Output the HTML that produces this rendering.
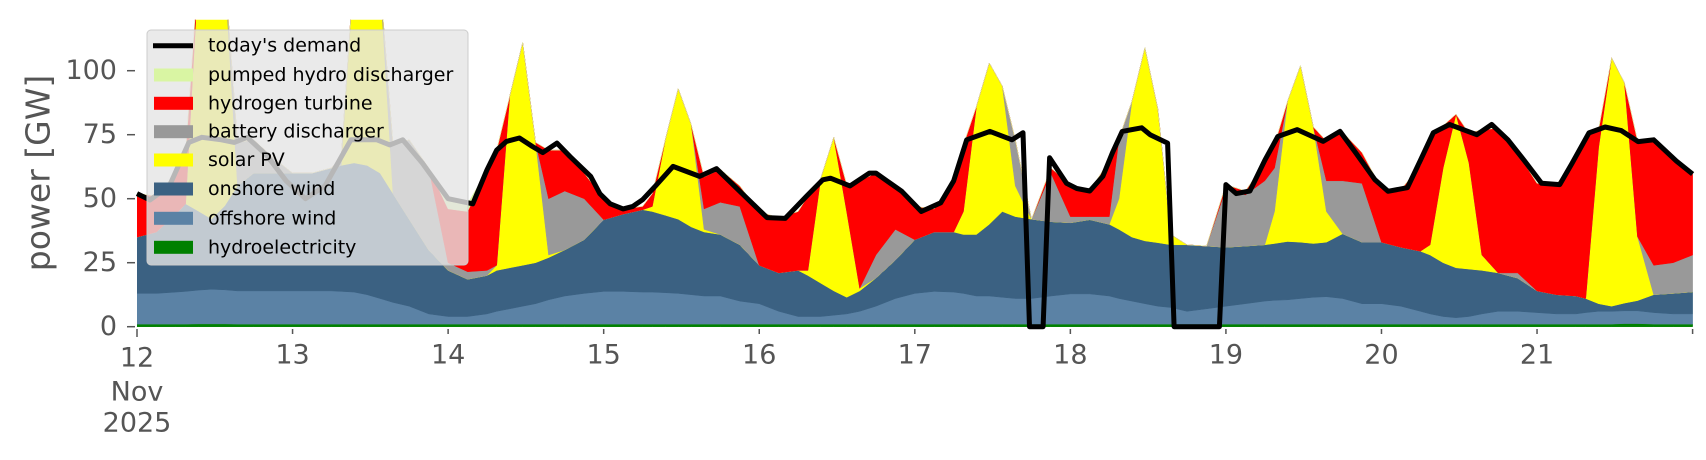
<!DOCTYPE html>
<html><head><meta charset="utf-8"><style>
html,body{margin:0;padding:0;background:#fff;}
svg{display:block;font-family:"DejaVu Sans","Liberation Sans",sans-serif;}
</style></head><body>
<svg id="chart" width="1706" height="460" viewBox="0 0 1706 460" xmlns="http://www.w3.org/2000/svg">
<defs><clipPath id="plotclip"><rect x="137" y="19.7" width="1556" height="307.5"/></clipPath></defs>
<g id="areas" clip-path="url(#plotclip)"></g>
<g id="demandg"></g>
<g id="axes"></g>
<text transform="translate(38,173) rotate(-90)" text-anchor="middle" dominant-baseline="central" font-size="33" fill="#555">power [GW]</text>
<g>
 <rect x="147" y="30" width="321" height="235" rx="4" fill="rgba(229,229,229,0.8)" stroke="#cccccc" stroke-width="1"/>
 <g><line x1="153" y1="45.7" x2="193" y2="45.7" stroke="#000" stroke-width="5"/><text x="208" y="45.7" dominant-baseline="central" font-size="19">today's demand</text></g>
 <g><rect x="154" y="68.5" width="39" height="13" fill="#d9f5a3"/><text x="208" y="75" dominant-baseline="central" font-size="19">pumped hydro discharger</text></g>
 <g><rect x="154" y="96.8" width="39" height="13" fill="#ff0000"/><text x="208" y="103.3" dominant-baseline="central" font-size="19">hydrogen turbine</text></g>
 <g><rect x="154" y="125.2" width="39" height="13" fill="#999999"/><text x="208" y="131.7" dominant-baseline="central" font-size="19">battery discharger</text></g>
 <g><rect x="154" y="153.5" width="39" height="13" fill="#ffff00"/><text x="208" y="160" dominant-baseline="central" font-size="19">solar PV</text></g>
 <g><rect x="154" y="182.5" width="39" height="13" fill="#3b6182"/><text x="208" y="189" dominant-baseline="central" font-size="19">onshore wind</text></g>
 <g><rect x="154" y="211.8" width="39" height="13" fill="#5b82a5"/><text x="208" y="218.3" dominant-baseline="central" font-size="19">offshore wind</text></g>
 <g><rect x="154" y="240.8" width="39" height="13" fill="#008000"/><text x="208" y="247.3" dominant-baseline="central" font-size="19">hydroelectricity</text></g>
</g>
</svg>
<script>
const hours = [0,3,6,7.5,9.5,11.5,13.5,15.5,18,21,
24,27,30,31.5,33.5,35.5,37.5,39.5,42,45,
48,51,54,55.5,57.5,59.5,61.5,63.5,66,69,
72,75,78,79.5,81.5,83.5,85.5,87.5,90,93,
96,99,102,103.5,105.5,107.5,109.5,111.5,114,117,
120,123,126,127.5,129.5,131.5,133.5,135.5,138,141,
144,147,150,151.5,153.5,155.5,157.5,159.5,162,165,
168,171,174,175.5,177.5,179.5,181.5,183.5,186,189,
192,195,198,199.5,201.5,203.5,205.5,207.5,210,213,
216,219,222,223.5,225.5,227.5,229.5,231.5,234,237,240];
const hydro = [1,1,1,1,1.1,1.1,1.1,1,1,1,
1,1,1,1,1,1,1,1,1,1,
1,1,1,1,1,1,1,1,1,1,
1,1,1,1,1,1,1,1,1,1,
1,1,1,1,1,1,1,1,1,1,
1,1,1,1,1,1,1,1,1,1,
1,1,1,1,1,1,1,1,1,1,
1,1,1,1,1,1,1,1,1,1,
1,1,1,1,1,1,1,1,1,1,
1,1,1,1,1,1,1.2,1.2,1,1,1];
const offshore = [12,12,12.5,12.8,13.2,13.5,13.3,13,13,13,
13,13,13,12.8,12.5,11.5,10,8.5,7,4,
3,3,4,5,6,7,8,9.5,11,12,
12.8,12.8,12.5,12.5,12.3,12,11.5,11,11,9,
8,5,3,3,3,3.5,4,5,7,10,
12,12.8,12.5,12,11,11,10.5,10,10,11,
11.8,11.8,11,10,9,8,7,6.5,5,6,
7,8,9,9.3,9.5,10,10.5,10.7,10,8,
8,7,5,4,3,2.5,3,4,5,5,
4.5,4,4,4.5,5,5,5,5,4.5,4,4];
const onshore = [22,24,30.5,34.2,30.8,27.5,32.7,41,46,46,
46,46,48,49.2,50.5,50.5,49,42.5,34,25,
18,14.5,15,16,16,16,16,16.5,18,21,
28,30.2,32.2,31.5,30.2,29,26.5,25,24,22,
15,15,18,16,13,9.5,6.5,8,11,15,
21,23.2,23.5,23,24,28,33.5,32,31,29,
27.8,29,28,27,25,24.5,24.8,24.5,26,24.5,
23,22.5,22,22.2,22.8,22,21,21.3,25.3,24,
24,23,23.5,23,21,19.5,18.5,17,15,13,
8.5,7.5,7,5.5,3,2,3,4,7,8,8.6];
const solar = [0,0,0,0,95,108,93,0,0,0,
0,0,0,0,76,87,75,0,0,0,
0,0,0,2,67,87,47,1,0,0,
0,0,0,2,29.5,51,40,1,0,0,
0,0,0,2,41,60,33.5,1,0,0,
0,0,0,9,50,63,49,12,0,0,
0,0,0,12,53,75.5,52.2,4,0,0,
0,0,0,12.5,54.7,69,45.5,12,0,0,
0,0,0,4,37,60,41.5,6,0,0,
0,0,0,0,61,97,86,25,0,0,0];
const battery = [0,0,0,0,0,0,0,17,13,6,
0,0,0,3,0,0,0,19,31,32,
3,3,2,0,0,0,0,22,23,16,
0,0,0,0,0,0,0,8,12.6,15,
0,0,0,0,0,0,0,0,9,12,
0,0,0,0,0,0,0,18,0,19,
2.4,1.2,3,23.5,0,0,0,0,0,0,
23,20,25,17,0,0,0,12,20.7,23,
0,0,0,0,0,0,0,0,0,2,
0,0,0,0,0,0,0,0,11.5,12,14.4];
const hydrogen = [17,14,16,20,0,0,0,0,0,0,
0,0,0,0,0,0,0,0,0,0,
21,23.5,39,45,0,0,0,19,16,10,
8.2,2,1.3,5,0,0,0,12.5,12.9,8,
21,21.5,23,29,0,0,10.5,42,32,17,
13,9,21,26,0,0,0,0,0,2,
12.5,10,22,0,0,0,0,0,0,0,
1.5,1.5,7,9,0,0,0,15.5,19,12,
21,22.5,33.5,41,16.5,0,11.5,49,56.5,47,
42,43,54,63,7,0,0,37.5,49,41,31.6];
const pumpedHydro = [0,0,0,0,0,0,0,0,0,0,
0,0,0,0,0,0,0,0,0,0,
4,3,0,0,0,0,0,0,0,0,
0,0,0,0,0,0,0,0,0,0,
0,0,0,0,0,0,0,0,0,0,
0,0,0,0,0,0,0,0,0,0,
0,0,0,0,0,0,0,0,0,0,
0,0,0,0,0,0,0,0,0,0,
0,0,0,0,0,0,0,0,0,0,
0,0,0,0,0,0,0,0,0,0,0];
const demandHours = [0,2,5,8,10,13,15,17,20,23,26,29,33,37,39,41,44,48,51.8,54,55.5,57,59,61,62.6,64.8,66.8,70,71.4,73,75,76.5,78,80,82.7,86.8,89.4,93,97.2,100,103.3,105.8,107,110,113,114,118,121,124,126,128,131.6,135,136.7,137.7,139.8,140.8,143.4,145,147,149,150.5,152,155,156.3,159,160,167,168,169.6,171.7,174,176,179,183,185.6,188,191,193,196,198,200,202.5,206.7,209,211.5,214,216.7,219.5,221.4,224,226.5,229,231.6,234,237.5,240];
const demandValues = [52,49.5,55,72,74,73,72,74,67,57,50,55,73,73,71,73,64,50,48,61.3,69,72.4,73.7,70.4,68,71.7,66.5,58.7,52,48,46,47,49.6,55,62.6,58.7,61.7,52.9,42.6,42.3,51,57.4,58,55,60,60,52.9,45,48.4,57,73,76.3,73,75.8,0,0,66,56,54,53,58.7,68,76.3,77.7,75,71.7,0,0,55.5,52,53,65,74.3,77,72.4,76.3,68,57.4,52.9,54.3,65,75.8,79,75,79,73,65,56,55.5,63.8,75.7,78,76.6,72.3,73,64.7,59.6];
const yTicks = [0,25,50,75,100];
const xTickLabels = ["12","13","14","15","16","17","18","19","20","21"];

const NS="http://www.w3.org/2000/svg";
const X0=137, X1=1692.6, Y0=326.7, PXGW=2.56, HMAX=240;
function xs(h){return X0+(h/HMAX)*(X1-X0);}
function ys(v){return Y0-v*PXGW;}
function mk(tag,attrs,parent){const e=document.createElementNS(NS,tag);for(const k in attrs)e.setAttribute(k,attrs[k]);parent.appendChild(e);return e;}

const layers=[
 {vals:hydro,color:"#008000",name:"area-hydroelectricity"},
 {vals:offshore,color:"#5b82a5",name:"area-offshore-wind"},
 {vals:onshore,color:"#3b6182",name:"area-onshore-wind"},
 {vals:solar,color:"#ffff00",name:"area-solar-pv"},
 {vals:battery,color:"#999999",name:"area-battery-discharger"},
 {vals:hydrogen,color:"#ff0000",name:"area-hydrogen-turbine"},
 {vals:pumpedHydro,color:"#d9f5a3",name:"area-pumped-hydro"}
];
const areas=document.getElementById('areas');
let base=hours.map(()=>0);
layers.forEach(L=>{
 const top=base.map((b,i)=>b+L.vals[i]);
 let pts=[];
 for(let i=0;i<hours.length;i++)pts.push(xs(hours[i]).toFixed(1)+","+ys(top[i]).toFixed(1));
 for(let i=hours.length-1;i>=0;i--)pts.push(xs(hours[i]).toFixed(1)+","+ys(base[i]).toFixed(1));
 const p=mk('polygon',{points:pts.join(' '),fill:L.color,stroke:L.color,'stroke-width':0.5},areas);
 
 
 base=top;
});

const dg=document.getElementById('demandg');
const dpts=demandHours.map((h,i)=>xs(h).toFixed(1)+","+ys(demandValues[i]).toFixed(1)).join(' ');
const dl=mk('polyline',{points:dpts,fill:'none',stroke:'#000','stroke-width':5,'stroke-linejoin':'round','stroke-linecap':'butt'},dg);



const ax=document.getElementById('axes');
yTicks.forEach(v=>{
 const t=mk('line',{x1:127,x2:135,y1:ys(v),y2:ys(v),stroke:'#555','stroke-width':1.5},ax);
 
 
 const l=mk('text',{x:117,y:ys(v),'text-anchor':'end','dominant-baseline':'central','font-size':27,fill:'#555'},ax);
 l.textContent=String(v);
 
 
});
xTickLabels.forEach((s,i)=>{
 const x=xs(i*24);
 const t=mk('line',{x1:x,x2:x,y1:329,y2:(i===0?337:334),stroke:'#555','stroke-width':1.5},ax);
 
 
 const l=mk('text',{x:x,y:(i===0?358:355),'text-anchor':'middle','dominant-baseline':'central','font-size':27,fill:'#555'},ax);
 l.textContent=s;
 
 
});
const tEnd=mk('line',{x1:xs(240),x2:xs(240),y1:329,y2:334,stroke:'#555','stroke-width':1.5},ax);


const m1=mk('text',{x:xs(0),y:392,'text-anchor':'middle','dominant-baseline':'central','font-size':27,fill:'#555'},ax);
m1.textContent='Nov';


const m2=mk('text',{x:xs(0),y:423,'text-anchor':'middle','dominant-baseline':'central','font-size':27,fill:'#555'},ax);
m2.textContent='2025';


</script>
</body></html>
